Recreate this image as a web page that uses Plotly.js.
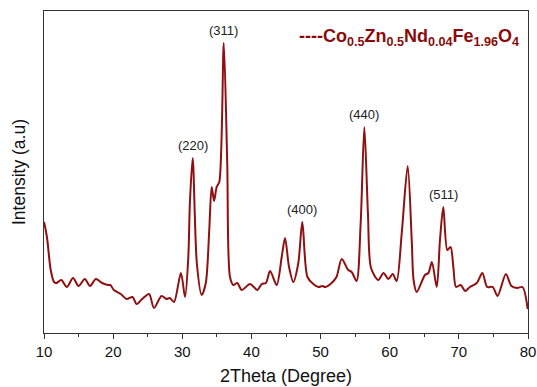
<!DOCTYPE html>
<html>
<head>
<meta charset="utf-8">
<script src="https://cdn.plot.ly/plotly-3.0.1.min.js"></script>
<style>html,body{margin:0;padding:0;background:#fff;}#chart{width:537px;height:387px;}</style>
</head>
<body>
<div id="chart"></div>
<script>
// 2Theta (degree)
const twoTheta = [10.0, 10.25, 10.48, 10.97, 11.45, 11.8, 12.5, 13.3, 14.2, 15.0, 15.9, 16.65, 17.5, 18.4, 19.26, 19.6, 20.1, 21.1, 21.96, 22.8, 23.4, 24.2, 25.2, 25.9, 27.0, 27.7, 28.2, 28.8, 29.8, 30.4, 30.87, 31.1, 31.5, 32.1, 32.8, 33.4, 33.9, 34.25, 34.6, 34.97, 35.35, 36.0, 36.5, 36.9, 37.4, 37.95, 38.6, 39.8, 40.85, 41.5, 42.1, 42.7, 43.65, 44.38, 44.86, 45.44, 46.06, 46.78, 47.36, 48.1, 48.95, 49.7, 50.25, 50.7, 51.6, 52.3, 53.06, 54.0, 54.5, 55.2, 55.8, 56.33, 56.85, 57.3, 58.35, 59.1, 59.8, 60.43, 61.0, 61.74, 62.6, 63.2, 63.45, 63.9, 65.1, 65.6, 66.1, 66.8, 67.27, 67.75, 68.33, 68.8, 69.2, 69.6, 70.27, 70.9, 71.6, 72.6, 73.4, 74.1, 74.9, 75.6, 76.8, 77.6, 78.45, 79.2, 79.96];
// Intensity (a.u)
const intensity = [111, 103, 93, 63, 51, 50, 53, 46, 55, 47, 54, 47, 54, 50, 48, 48, 43, 39, 34, 36, 29, 34, 39, 25, 37, 34, 35, 31, 60, 36, 76, 130, 175, 70, 38, 50, 103, 146, 132, 146, 151, 290, 170, 56, 48, 50, 43, 49, 43, 49, 50, 62, 48, 76, 95, 66, 51, 70, 111, 56, 49, 46, 47, 46, 50, 56, 74, 63, 61, 52, 110, 206, 120, 65, 53, 60, 54, 59, 52, 100, 167, 90, 53, 41, 58, 60, 71, 46, 93, 126, 83, 86, 66, 46, 48, 42, 46, 50, 60, 46, 46, 37, 59, 47, 45, 46, 24];
// Peak labels (hkl)
const peakLabels = ["(220)", "(311)", "(400)", "(440)", "(511)"];
const peakX = [31.5, 36.0, 47.36, 56.33, 67.75];
const peakY = [175, 290, 111, 206, 126];

const lineColor = "#8e1010";

const annotations = peakLabels.map((t, i) => ({
  x: peakX[i], y: peakY[i], xref: "x", yref: "y",
  text: t, showarrow: false, yanchor: "bottom", yshift: 3,
  font: {family: "Liberation Sans, Arial, sans-serif", size: 13, color: "#222"}
}));
annotations.push({
  xref: "paper", yref: "paper", x: 0.523, y: 0.918, xanchor: "left", yanchor: "middle",
  text: "<b>----Co<sub>0.5</sub>Zn<sub>0.5</sub>Nd<sub>0.04</sub>Fe<sub>1.96</sub>O<sub>4</sub></b>",
  showarrow: false,
  font: {family: "Liberation Sans, Arial, sans-serif", size: 18, color: "#8b0a0a"}
});

const trace = {
  x: twoTheta, y: intensity, type: "scatter", mode: "lines",
  line: {color: lineColor, width: 2, shape: "spline", smoothing: 0.8},
  hoverinfo: "x+y", showlegend: false
};

const layout = {
  width: 537, height: 387,
  margin: {l: 44, r: 9, t: 11, b: 54},
  paper_bgcolor: "#ffffff", plot_bgcolor: "#ffffff",
  font: {family: "Liberation Sans, Arial, sans-serif", color: "#111"},
  xaxis: {
    range: [10, 80], dtick: 10, tick0: 10,
    ticks: "outside", ticklen: 5, tickwidth: 1, tickcolor: "#333",
    minor: {dtick: 5, ticks: "outside", ticklen: 3, tickcolor: "#333"},
    showline: true, linecolor: "#333", linewidth: 1, mirror: true,
    showgrid: false, zeroline: false,
    tickfont: {size: 15, color: "#111"},
    title: {text: "2Theta (Degree)", font: {size: 18, color: "#111"}, standoff: 10}
  },
  yaxis: {
    range: [0, 322], showticklabels: false, ticks: "",
    showline: true, linecolor: "#333", linewidth: 1, mirror: true,
    showgrid: false, zeroline: false,
    title: {text: "Intensity (a.u)", font: {size: 17.5, color: "#111"}, standoff: 12}
  },
  annotations: annotations
};

Plotly.newPlot("chart", [trace], layout, {displayModeBar: false, staticPlot: false});
</script>
</body>
</html>
